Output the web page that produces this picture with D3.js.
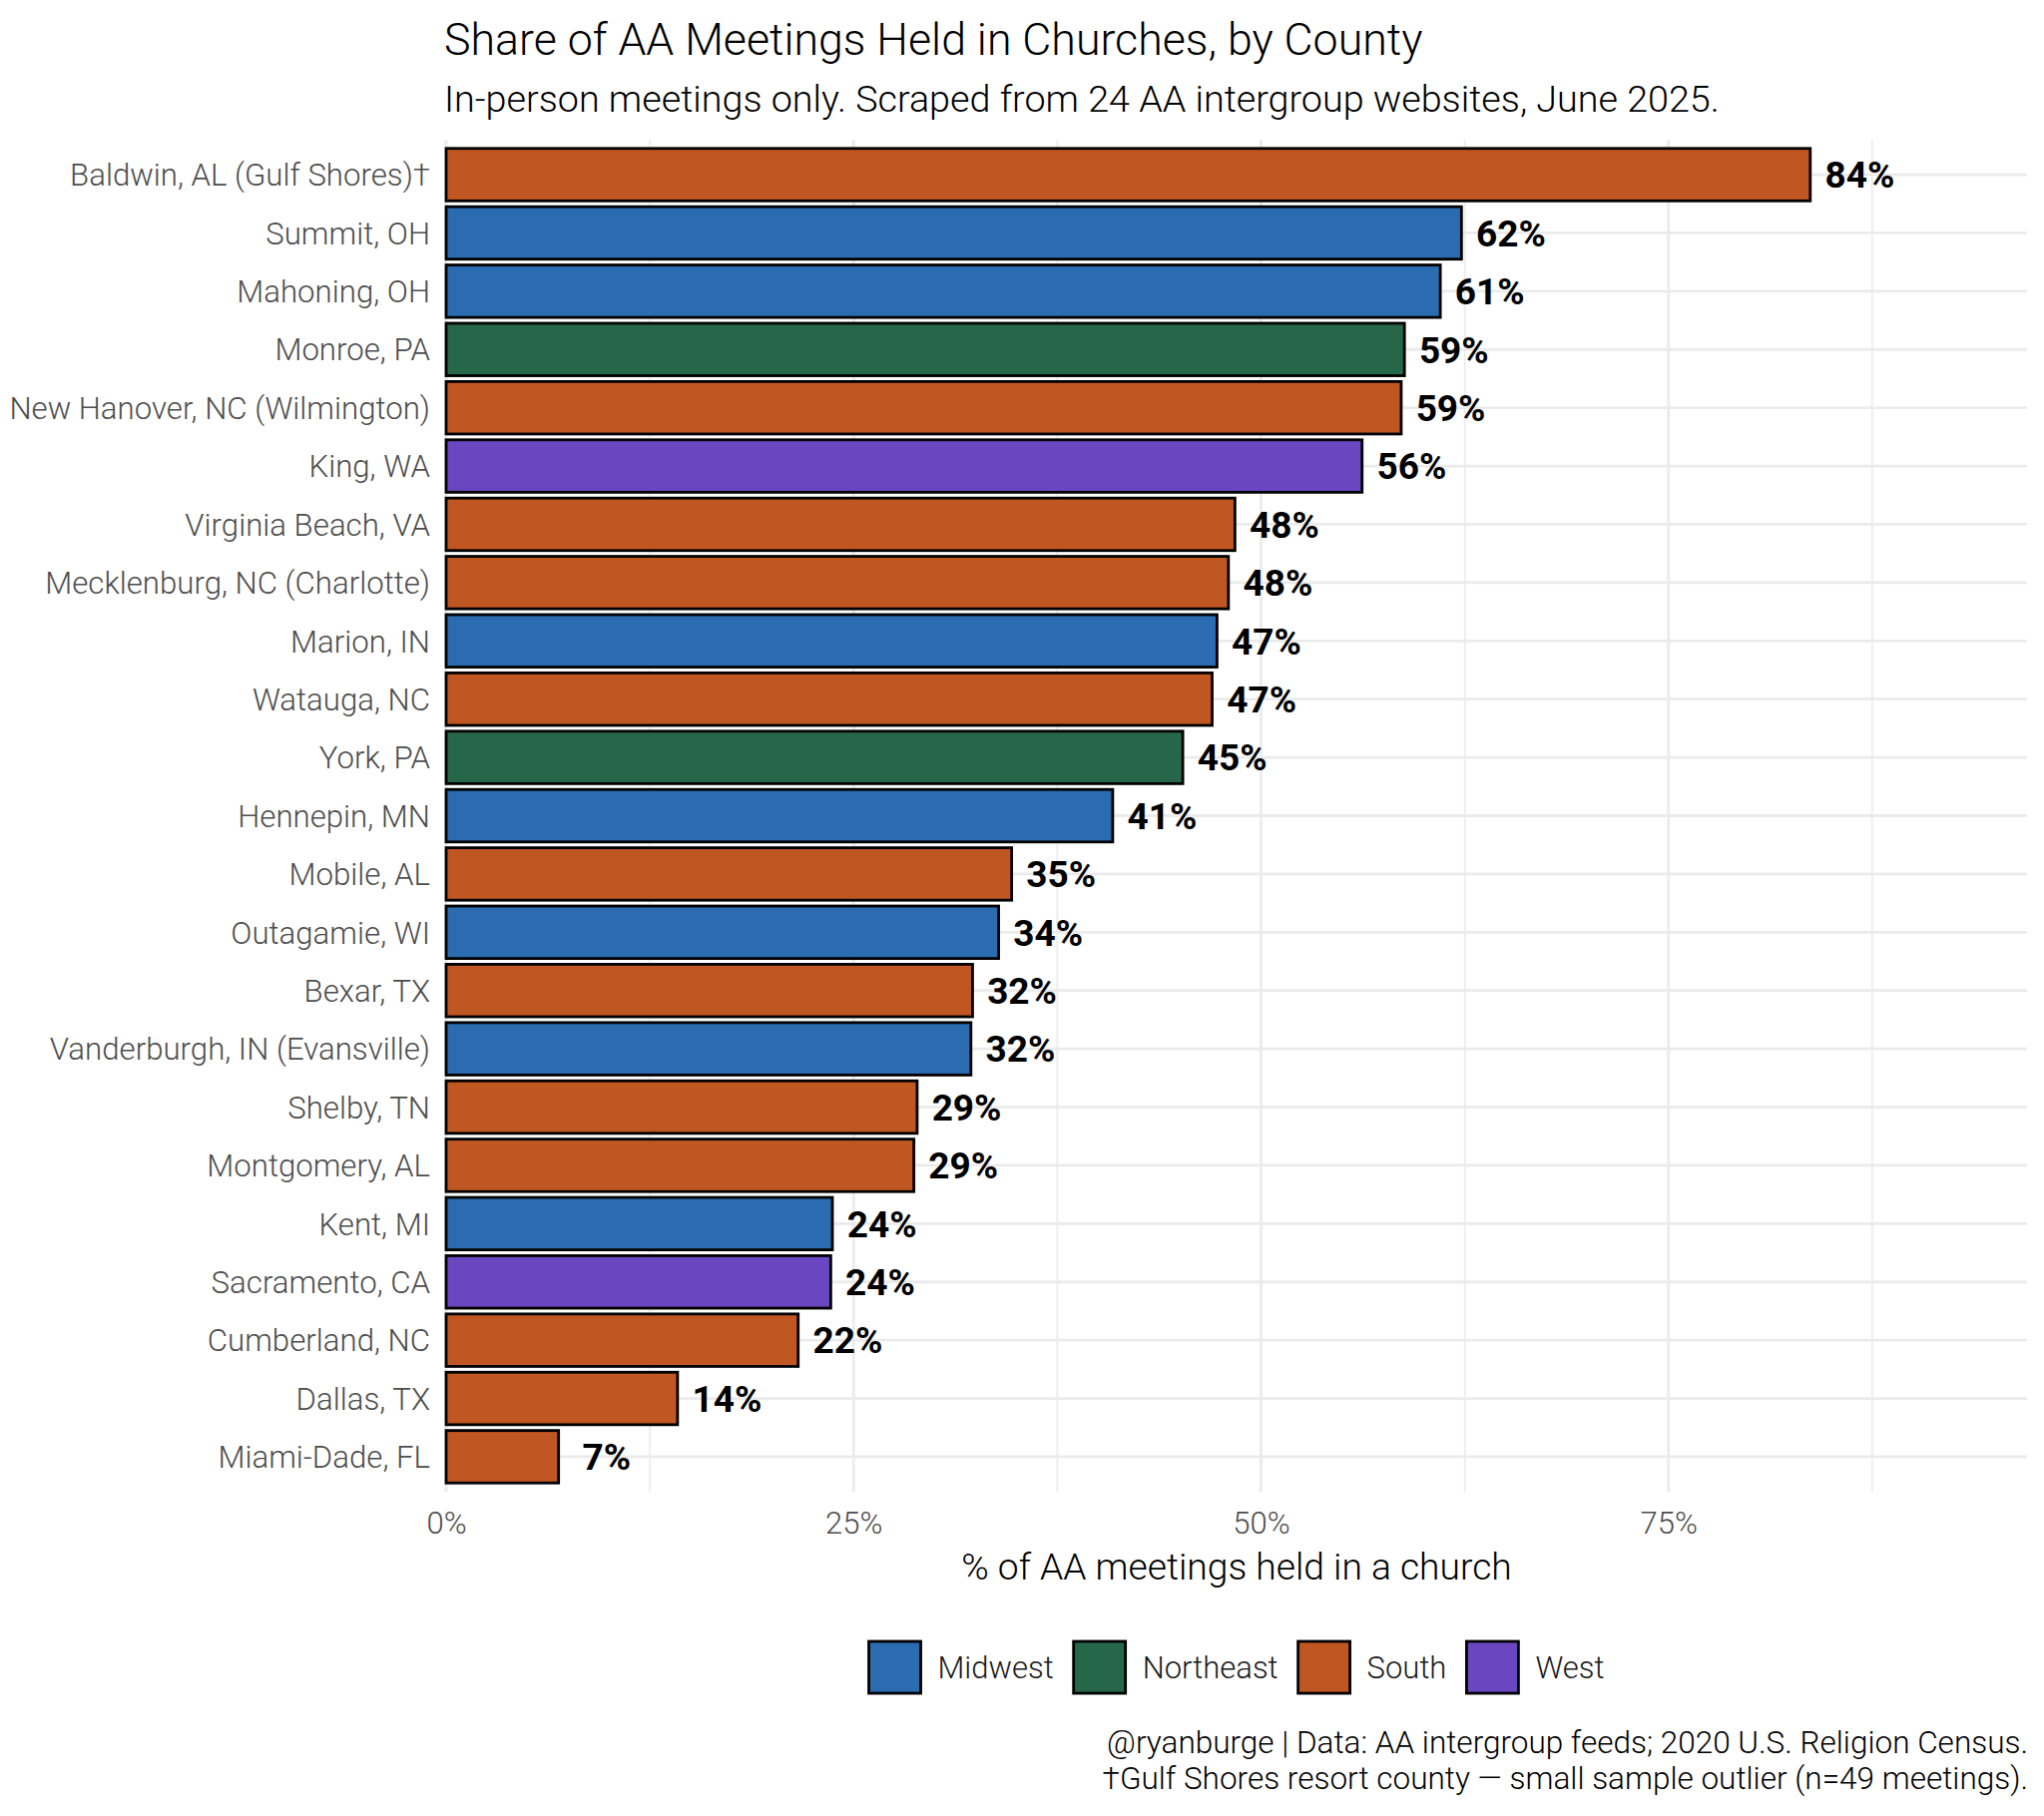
<!DOCTYPE html>
<html>
<head>
<meta charset="utf-8">
<script src="https://cdn.jsdelivr.net/npm/d3@7"></script>
<style>
  html, body { margin: 0; padding: 0; background: #ffffff; }
  svg { display: block; }
  text { font-family: Roboto, "Noto Sans", "DejaVu Sans", sans-serif; }
</style>
</head>
<body>
<svg id="chart" width="2048" height="1820"></svg>
<script>
// ---- data ----
const counties = [
  "Baldwin, AL (Gulf Shores)†", "Summit, OH", "Mahoning, OH", "Monroe, PA",
  "New Hanover, NC (Wilmington)", "King, WA", "Virginia Beach, VA",
  "Mecklenburg, NC (Charlotte)", "Marion, IN", "Watauga, NC", "York, PA",
  "Hennepin, MN", "Mobile, AL", "Outagamie, WI", "Bexar, TX",
  "Vanderburgh, IN (Evansville)", "Shelby, TN", "Montgomery, AL", "Kent, MI",
  "Sacramento, CA", "Cumberland, NC", "Dallas, TX", "Miami-Dade, FL"
];
const regionOf = [
  "South", "Midwest", "Midwest", "Northeast",
  "South", "West", "South",
  "South", "Midwest", "South", "Northeast",
  "Midwest", "South", "Midwest", "South",
  "Midwest", "South", "South", "Midwest",
  "West", "South", "South", "South"
];
const shareChurch = [
  0.837, 0.623, 0.610, 0.588,
  0.586, 0.562, 0.484,
  0.480, 0.473, 0.470, 0.452,
  0.409, 0.347, 0.339, 0.323,
  0.322, 0.289, 0.287, 0.237,
  0.236, 0.216, 0.142, 0.069
];
const regions = ["Midwest", "Northeast", "South", "West"];
const regionColors = ["#2B6CB0", "#276749", "#C05621", "#6B46C1"];
const xTicks = [0, 0.25, 0.5, 0.75];
const xMinorTicks = [0.125, 0.375, 0.625, 0.875];
const titleText = "Share of AA Meetings Held in Churches, by County";
const subtitleText = "In-person meetings only. Scraped from 24 AA intergroup websites, June 2025.";
const xAxisTitle = "% of AA meetings held in a church";
const captionLines = [
  "@ryanburge | Data: AA intergroup feeds; 2020 U.S. Religion Census.",
  "†Gulf Shores resort county — small sample outlier (n=49 meetings)."
];

// ---- layout ----
const panel = { left: 447, right: 2031, top: 140, bottom: 1495 };
const svg = d3.select("#chart");

const x = d3.scaleLinear().domain([0, 0.97]).range([panel.left, panel.right]);
const y = d3.scaleBand().domain(counties).range([panel.top, panel.bottom])
  .paddingInner(0.1).paddingOuter(0.15);
const color = d3.scaleOrdinal().domain(regions).range(regionColors);

const rows = counties.map((c, i) => ({ county: c, region: regionOf[i], value: shareChurch[i] }));

// gridlines
const grid = svg.append("g");
grid.selectAll("line.minor").data(xMinorTicks).join("line")
  .attr("x1", d => x(d)).attr("x2", d => x(d))
  .attr("y1", panel.top).attr("y2", panel.bottom)
  .attr("stroke", "#ebebeb").attr("stroke-width", 1.6);
grid.selectAll("line.majorx").data(xTicks).join("line")
  .attr("x1", d => x(d)).attr("x2", d => x(d))
  .attr("y1", panel.top).attr("y2", panel.bottom)
  .attr("stroke", "#ebebeb").attr("stroke-width", 2.8);
grid.selectAll("line.majory").data(counties).join("line")
  .attr("x1", panel.left).attr("x2", panel.right)
  .attr("y1", d => y(d) + y.bandwidth() / 2).attr("y2", d => y(d) + y.bandwidth() / 2)
  .attr("stroke", "#ebebeb").attr("stroke-width", 2.8);

// bars
svg.append("g").selectAll("rect").data(rows).join("rect")
  .attr("x", x(0))
  .attr("y", d => y(d.county))
  .attr("width", d => x(d.value) - x(0))
  .attr("height", y.bandwidth())
  .attr("fill", d => color(d.region))
  .attr("stroke", "#000").attr("stroke-width", 2.8);

// value labels (two-character padded, as in the source)
const fmt = v => { const n = Math.round(v * 100); return (n < 10 ? " " : "") + n + "%"; };
svg.append("g").selectAll("text").data(rows).join("text")
  .attr("x", d => x(d.value + 0.009))
  .attr("y", d => y(d.county) + y.bandwidth() / 2)
  .attr("dy", "0.36em")
  .attr("font-size", 37).attr("font-weight", 700).attr("fill", "#000")
  .attr("xml:space", "preserve").style("white-space", "pre")
  .text(d => fmt(d.value));

// y axis labels
const yAxis = svg.append("g").attr("transform", `translate(${panel.left - 16},0)`)
  .call(d3.axisLeft(y).tickSize(0).tickPadding(0));
yAxis.select(".domain").remove();
yAxis.selectAll("text")
  .attr("font-size", 31.2).attr("font-weight", 300).attr("fill", "#4d4d4d")
  .attr("font-family", "Roboto, 'Noto Sans', sans-serif").attr("dy", "0.36em");

// x axis labels
const xAxis = svg.append("g").attr("transform", `translate(0,${panel.bottom + 13})`)
  .call(d3.axisBottom(x).tickValues(xTicks).tickFormat(d3.format(".0%")).tickSize(0).tickPadding(0));
xAxis.select(".domain").remove();
xAxis.selectAll("text")
  .attr("font-size", 31).attr("font-weight", 300).attr("fill", "#4d4d4d")
  .attr("font-family", "Roboto, 'Noto Sans', sans-serif").attr("dy", "0.92em");

// axis title
svg.append("text")
  .attr("x", (panel.left + panel.right) / 2).attr("y", 1583)
  .attr("text-anchor", "middle").attr("font-size", 37.2).attr("font-weight", 300).attr("fill", "#000")
  .text(xAxisTitle);

// title & subtitle
svg.append("text").attr("x", panel.left - 2).attr("y", 55)
  .attr("font-size", 44.7).attr("font-weight", 300).attr("fill", "#000").text(titleText);
svg.append("text").attr("x", panel.left - 2).attr("y", 112)
  .attr("font-size", 37.7).attr("font-weight", 300).attr("fill", "#000").text(subtitleText);

// legend
const legend = svg.append("g");
const keySize = 52, keyGap = 17, itemGap = 20, legendCY = 1671;
const items = legend.selectAll("g").data(regions).join("g");
items.append("rect")
  .attr("width", keySize).attr("height", keySize)
  .attr("y", legendCY - keySize / 2)
  .attr("fill", d => color(d)).attr("stroke", "#000").attr("stroke-width", 2.8);
items.append("text")
  .attr("y", legendCY).attr("dy", "0.36em")
  .attr("font-size", 31).attr("font-weight", 300).attr("fill", "#1a1a1a")
  .text(d => d);
let cursor = 0;
const offsets = [];
items.each(function () {
  const w = d3.select(this).select("text").node().getComputedTextLength();
  offsets.push(cursor);
  cursor += keySize + keyGap + w + itemGap;
});
const totalW = cursor - itemGap;
const startX = (panel.left + panel.right) / 2 - totalW / 2;
items.each(function (d, i) {
  const g = d3.select(this);
  g.select("rect").attr("x", startX + offsets[i]);
  g.select("text").attr("x", startX + offsets[i] + keySize + keyGap);
});

// caption
svg.append("g").selectAll("text").data(captionLines).join("text")
  .attr("x", panel.right + 1).attr("y", (d, i) => 1757 + i * 36)
  .attr("text-anchor", "end").attr("font-size", 31.5).attr("font-weight", 300).attr("fill", "#000")
  .text(d => d);
</script>
</body>
</html>
